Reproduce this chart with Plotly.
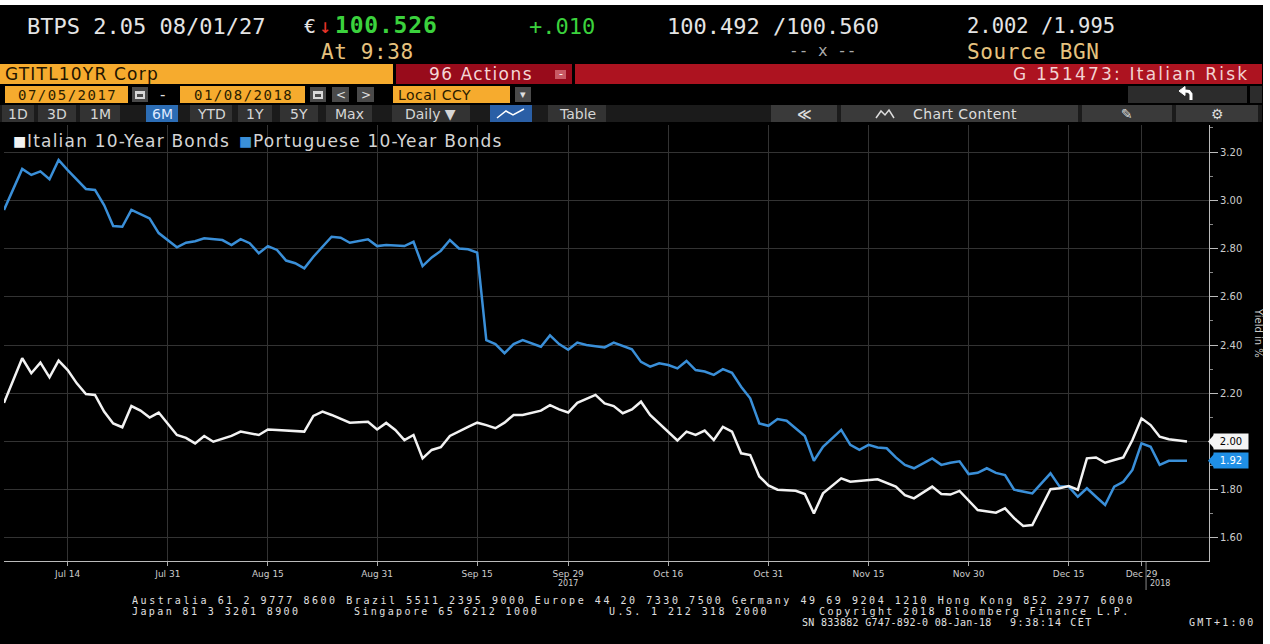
import plotly.graph_objects as go

W, H = 1270, 644

# ---------------- data ----------------
it_dates = ["2017-07-05","2017-07-07","2017-07-10","2017-07-11","2017-07-12","2017-07-13","2017-07-14","2017-07-17","2017-07-18","2017-07-19",
            "2017-07-20","2017-07-21","2017-07-24","2017-07-25","2017-07-26","2017-07-27","2017-07-28","2017-07-31","2017-08-01","2017-08-02",
            "2017-08-03","2017-08-04","2017-08-07","2017-08-09","2017-08-10","2017-08-14","2017-08-15","2017-08-16","2017-08-21","2017-08-22",
            "2017-08-23","2017-08-24","2017-08-28","2017-08-30","2017-08-31","2017-09-01","2017-09-04","2017-09-05","2017-09-06","2017-09-07",
            "2017-09-08","2017-09-11","2017-09-12","2017-09-14","2017-09-15","2017-09-18","2017-09-19","2017-09-20","2017-09-21","2017-09-22",
            "2017-09-26","2017-09-27","2017-09-28","2017-09-29","2017-10-02","2017-10-04","2017-10-05","2017-10-06","2017-10-09","2017-10-10",
            "2017-10-11","2017-10-12","2017-10-16","2017-10-17","2017-10-18","2017-10-19","2017-10-20","2017-10-23","2017-10-24","2017-10-25",
            "2017-10-26","2017-10-27","2017-10-30","2017-10-31","2017-11-01","2017-11-03","2017-11-06","2017-11-07","2017-11-08","2017-11-10",
            "2017-11-13","2017-11-15","2017-11-16","2017-11-20","2017-11-21","2017-11-22","2017-11-24","2017-11-27","2017-11-28","2017-11-29",
            "2017-12-01","2017-12-05","2017-12-06","2017-12-07","2017-12-08","2017-12-11","2017-12-12","2017-12-13","2017-12-14","2017-12-15",
            "2017-12-18","2017-12-19","2017-12-20","2017-12-21","2017-12-22","2017-12-27","2017-12-28","2017-12-29","2018-01-02","2018-01-03",
            "2018-01-04","2018-01-08"]
it_yield = [2.16,2.345,2.283,2.327,2.266,2.335,2.296,2.241,2.197,2.193,
            2.124,2.075,2.059,2.147,2.128,2.099,2.12,2.075,2.027,2.015,
            1.992,2.023,1.999,2.023,2.041,2.027,2.05,2.048,2.041,2.106,
            2.124,2.11,2.078,2.082,2.05,2.077,2.048,2.006,2.027,1.93,
            1.965,1.976,2.023,2.061,2.078,2.068,2.055,2.078,2.11,2.11,
            2.128,2.151,2.133,2.12,2.16,2.193,2.158,2.147,2.117,2.133,
            2.165,2.11,2.041,2.004,2.041,2.027,2.045,2.006,2.061,2.041,
            1.951,1.944,1.855,1.818,1.80,1.796,1.782,1.702,1.785,1.847,
            1.833,1.84,1.843,1.813,1.778,1.764,1.813,1.782,1.78,1.795,
            1.716,1.705,1.723,1.682,1.65,1.654,1.73,1.802,1.806,1.815,
            1.80,1.93,1.934,1.912,1.923,1.934,2.006,2.096,2.068,2.02,
            2.009,2.00]

pt_dates = ["2017-07-05","2017-07-07","2017-07-10","2017-07-11","2017-07-12","2017-07-13","2017-07-14","2017-07-17","2017-07-18","2017-07-19",
            "2017-07-20","2017-07-21","2017-07-24","2017-07-25","2017-07-26","2017-07-27","2017-07-28","2017-08-01","2017-08-02","2017-08-03",
            "2017-08-04","2017-08-08","2017-08-09","2017-08-10","2017-08-11","2017-08-14","2017-08-15","2017-08-16","2017-08-17","2017-08-18",
            "2017-08-21","2017-08-22","2017-08-24","2017-08-25","2017-08-28","2017-08-30","2017-08-31","2017-09-01","2017-09-05","2017-09-06",
            "2017-09-07","2017-09-08","2017-09-11","2017-09-12","2017-09-13","2017-09-14","2017-09-15","2017-09-18","2017-09-19","2017-09-20",
            "2017-09-21","2017-09-22","2017-09-26","2017-09-27","2017-09-28","2017-09-29","2017-10-02","2017-10-03","2017-10-05","2017-10-06",
            "2017-10-10","2017-10-11","2017-10-12","2017-10-13","2017-10-16","2017-10-17","2017-10-18","2017-10-19","2017-10-20","2017-10-23",
            "2017-10-24","2017-10-25","2017-10-26","2017-10-27","2017-10-30","2017-10-31","2017-11-01","2017-11-02","2017-11-06","2017-11-07",
            "2017-11-08","2017-11-10","2017-11-13","2017-11-14","2017-11-15","2017-11-16","2017-11-17","2017-11-20","2017-11-21","2017-11-22",
            "2017-11-24","2017-11-27","2017-11-28","2017-11-29","2017-11-30","2017-12-01","2017-12-04","2017-12-05","2017-12-06","2017-12-07",
            "2017-12-11","2017-12-12","2017-12-13","2017-12-14","2017-12-15","2017-12-18","2017-12-19","2017-12-20","2017-12-21","2017-12-22",
            "2017-12-27","2017-12-28","2017-12-29","2018-01-02","2018-01-03","2018-01-04","2018-01-08"]
pt_yield = [2.96,3.13,3.105,3.12,3.087,3.167,3.125,3.084,3.047,3.043,
            2.98,2.893,2.89,2.96,2.943,2.925,2.864,2.805,2.824,2.83,
            2.842,2.835,2.814,2.839,2.822,2.78,2.81,2.794,2.75,2.739,
            2.718,2.766,2.849,2.845,2.824,2.838,2.81,2.815,2.81,2.828,
            2.727,2.763,2.79,2.835,2.80,2.797,2.783,2.42,2.404,2.366,
            2.404,2.42,2.393,2.44,2.404,2.38,2.41,2.40,2.39,2.41,
            2.382,2.33,2.31,2.324,2.317,2.303,2.334,2.296,2.29,2.276,
            2.30,2.285,2.227,2.179,2.075,2.065,2.093,2.086,2.023,1.92,
            1.978,2.048,1.986,1.965,1.986,1.975,1.972,1.934,1.903,1.889,
            1.93,1.903,1.912,1.918,1.865,1.87,1.889,1.87,1.861,1.80,
            1.785,1.827,1.868,1.813,1.813,1.771,1.806,1.771,1.737,1.813,
            1.833,1.882,1.992,1.978,1.903,1.92,1.92]

tick_dates = ["2017-07-14","2017-07-31","2017-08-15","2017-08-31","2017-09-15","2017-09-29",
              "2017-10-16","2017-10-31","2017-11-15","2017-11-30","2017-12-15","2017-12-29"]
tick_labels = ["Jul 14","Jul 31","Aug 15","Aug 31","Sep 15","Sep 29",
               "Oct 16","Oct 31","Nov 15","Nov 30","Dec 15","Dec 29"]
y_ticks = [1.6, 1.8, 2.0, 2.2, 2.4, 2.6, 2.8, 3.0, 3.2]
holidays = ["2017-12-25", "2017-12-26", "2018-01-01"]
series_names = ["Italian 10-Year Bonds", "Portuguese 10-Year Bonds"]

# ---------------- styles ----------------
WHITE = "#f2f2f2"
BLUE = "#3a8fd8"
TAGBLUE = "#1f8fe6"
ORANGE = "#f6ab2e"
SANS = "DejaVu Sans"
MONO = "DejaVu Sans Mono"

def fx(x):
    return x / W

def fy(y):
    return 1 - y / H

shapes = []
ann = []

def R(x0, y0, x1, y1, fill):
    shapes.append(dict(type="rect", xref="paper", yref="paper",
                       x0=fx(x0), x1=fx(x1), y0=fy(y1), y1=fy(y0),
                       fillcolor=fill, line=dict(width=0), layer="above"))

def P(points, color, width=1.5, fill=None):
    d = "M " + " L ".join("%f %f" % (fx(a), fy(b)) for a, b in points)
    if fill:
        d += " Z"
    shapes.append(dict(type="path", xref="paper", yref="paper", layer="above", path=d,
                       line=dict(color=color, width=width), fillcolor=fill))

def T(x, y, text, size, color, family=SANS, anchor="left", ls=0):
    if ls:
        text = '<span style="letter-spacing:%.2fpx">%s</span>' % (ls, text)
    ann.append(dict(x=fx(x), y=fy(y), xref="paper", yref="paper", text=text,
                    showarrow=False, xanchor=anchor, yanchor="middle", borderpad=0,
                    font=dict(size=size, color=color, family=family)))

# page edges
R(0, 0, W, 5, "white")
R(1263, 0, W, H, "white")

# ---- row 1 / 2 : quote line
T(26, 26, "BTPS 2.05 08/01/27", 22, "#e4e4e4", MONO)
T(303, 26, "€", 20, "#e4e4e4", MONO)
T(318, 26, "↓", 20, "#e8342a", MONO)
T(334, 25, "<b>100.526</b>", 23, "#3bd23d", MONO, "left", 0.8)
T(528, 26, "+.010", 22, "#3bd23d", MONO)
T(666, 26, "100.492 /100.560", 22, "#e4e4e4", MONO)
T(966, 26, "2.002 /1.995", 20.5, "#e4e4e4", MONO)
T(320, 52, "At 9:38", 21, "#e6c27e", MONO, "left", 0.6)
T(788, 51, "-- x --", 16, "#aaaaaa", MONO)
T(966, 52, "Source BGN", 21, "#e6c27e", MONO, "left", 0.6)

# ---- row 3
R(0, 64, 393, 84, ORANGE)
R(396, 64, 572, 84, "#980b1b")
R(575, 64, 1262, 84, "#ad1320")
T(4, 74, "GTITL10YR Corp", 17, "#1e1400", SANS, "left", 1.2)
T(428, 74, "96 Actions", 17, "#f4d6d6", SANS, "left", 1.5)
R(555, 70, 566, 79, "#c85a64")
T(560.5, 74, "-", 11, "#ffffff", SANS, "center")
T(1250, 74, "G 151473: Italian Risk", 17, "#f2d2d2", SANS, "right", 2.2)

# ---- row 4
R(5, 86, 128, 103, ORANGE)
T(67, 95, "07/05/2017", 14, "#2a1c00", MONO, "center", 1.5)
R(132, 87, 148, 102, "#4a4a4a"); R(135, 91, 145, 99, "#d8d8d8"); R(137, 94, 143, 97, "#4a4a4a")
T(162, 95, "-", 15, "#dddddd", SANS, "center")
R(180, 86, 305, 103, ORANGE)
T(243, 95, "01/08/2018", 14, "#2a1c00", MONO, "center", 1.5)
R(310, 87, 326, 102, "#4a4a4a"); R(313, 91, 323, 99, "#d8d8d8"); R(315, 94, 321, 97, "#4a4a4a")
R(332, 87, 349, 102, "#4a4a4a"); T(340.5, 95, "<", 12, "#e0e0e0", SANS, "center")
R(357, 87, 374, 102, "#4a4a4a"); T(365.5, 95, ">", 12, "#e0e0e0", SANS, "center")
R(393, 86, 510, 103, ORANGE)
T(397, 95, "Local CCY", 14, "#2a1c00", SANS, "left", 0.5)
R(515, 87, 531, 102, "#4a4a4a"); T(523, 95, "▾", 11, "#e0e0e0", SANS, "center")
R(1128, 86, 1247, 103, "#2c2c2c")
R(1250, 86, 1262, 103, "#2c2c2c")
P([(1191, 100), (1191, 94), (1189, 91.5), (1185, 91)], "#ffffff", 3)
P([(1179, 91), (1185, 86.5), (1185, 95.5)], "#ffffff", 1, "#ffffff")

# ---- row 5 toolbar
R(0, 105, 1262, 122, "#1b1b1b")
buttons = [("1D", 2, 34), ("3D", 38, 76), ("1M", 80, 120), ("6M", 146, 178),
           ("YTD", 190, 232), ("1Y", 238, 272), ("5Y", 280, 318), ("Max", 326, 372),
           ("Daily ▼", 392, 470), ("", 490, 532), ("Table", 548, 606)]
for lab, a, b in buttons:
    col = "#2c6db5" if lab == "6M" else ("#2a5fa6" if lab == "" else "#333333")
    R(a, 105, b, 122, col)
    if lab:
        T((a + b) / 2, 113.5, lab, 14, "#dfe9ff" if lab == "6M" else "#d6d6d6", SANS, "center")
P([(497, 118), (506, 111), (513, 115), (524, 109)], "#ffffff", 1.5)
R(771, 105, 837, 122, "#3a3a3a"); T(804, 113.5, "<b>≪</b>", 14, "#dddddd", SANS, "center")
R(841, 105, 1078, 122, "#3a3a3a")
P([(876, 118), (881, 111), (885, 115), (889, 110), (894, 118)], "#dddddd", 1.5)
T(912, 113.5, "Chart Content", 14, "#dddddd", SANS, "left", 0.4)
R(1082, 105, 1172, 122, "#3a3a3a"); T(1127, 113.5, "✎", 14, "#dddddd", SANS, "center")
R(1176, 105, 1258, 122, "#3a3a3a"); T(1217, 113.5, "⚙", 14, "#dddddd", SANS, "center")

# ---- legend
T(12, 141, "■", 14, WHITE)
T(26, 141, series_names[0], 17, "#d4d4d4", SANS, "left", 1.2)
T(238, 141, "■", 14, BLUE)
T(252, 141, series_names[1], 17, "#d4d4d4", SANS, "left", 1.2)

# ---- axis extras
ann.append(dict(x=fx(1258), y=fy(333), xref="paper", yref="paper", text="Yield in %",
                textangle=90, showarrow=False, xanchor="center", yanchor="middle",
                font=dict(size=10, color="#cccccc", family=SANS)))
for val, bg, fg in [(it_yield[-1], "#f4f4f4", "#000000"), (pt_yield[-1], TAGBLUE, "#ffffff")]:
    ann.append(dict(x=fx(1213), y=val, xref="paper", yref="y", text="%.2f" % val,
                    showarrow=False, xanchor="left", yanchor="middle", bgcolor=bg, borderpad=1,
                    width=32, height=13, align="center",
                    font=dict(size=10, color=fg, family=SANS)))
    shapes.append(dict(type="path", xref="paper", yref="y", layer="above",
                       path="M %f %f L %f %f L %f %f Z" % (fx(1208), val, fx(1214), val + 0.028,
                                                          fx(1214), val - 0.028),
                       line=dict(width=0), fillcolor=bg))
ann.append(dict(x="2017-09-29", y=fy(583), xref="x", yref="paper", text="2017", showarrow=False,
                xanchor="center", yanchor="middle", borderpad=0, font=dict(size=8, color="#cccccc", family=SANS)))
ann.append(dict(x="2018-01-03", y=fy(583), xref="x", yref="paper", text="2018", showarrow=False,
                xanchor="center", yanchor="middle", borderpad=0, font=dict(size=8, color="#cccccc", family=SANS)))
shapes.append(dict(type="line", xref="x", yref="paper", x0="2017-12-29 12:00", x1="2017-12-29 12:00",
                   y0=fy(590), y1=fy(562), line=dict(color="#888888", width=1)))

# hide the tick label that sits under the last-value tag
y_ticktext = ["" if abs(v - it_yield[-1]) < 0.05 else "%.2f" % v for v in y_ticks]

# ---- footer
F1, F2, F3 = 600, 611, 622
T(131, F1, "Australia 61 2 9777 8600 Brazil 5511 2395 9000 Europe 44 20 7330 7500 "
           "Germany 49 69 9204 1210 Hong Kong 852 2977 6000", 10, "#e0e0e0", MONO, "left", 2.55)
for x, s in [(131, "Japan 81 3 3201 8900"), (353, "Singapore 65 6212 1000"),
             (608, "U.S. 1 212 318 2000"), (818, "Copyright 2018 Bloomberg Finance L.P.")]:
    T(x, F2, s, 10, "#e0e0e0", MONO, "left", 2.4)
for x, s, l in [(801, "SN 833882 G747-892-0 08-Jan-18", 0.3), (1009, "9:38:14 CET", 1.5), (1188, "GMT+1:00", 2.3)]:
    T(x, F3, s, 10, "#e0e0e0", MONO, "left", l)

# ---------------- figure ----------------
fig = go.Figure()
fig.add_trace(go.Scatter(x=pt_dates, y=pt_yield, mode="lines", name=series_names[1],
                         line=dict(color=BLUE, width=2.5), showlegend=False))
fig.add_trace(go.Scatter(x=it_dates, y=it_yield, mode="lines", name=series_names[0],
                         line=dict(color=WHITE, width=2.5), showlegend=False))

fig.update_layout(
    width=W, height=H, margin=dict(l=0, r=0, t=0, b=0),
    paper_bgcolor="#000000", plot_bgcolor="#000000",
    showlegend=False, shapes=shapes, annotations=ann,
    xaxis=dict(type="date", domain=[fx(4), fx(1209)],
               range=["2017-07-05", "2018-01-10 10:00"],
               rangebreaks=[dict(bounds=["sat", "mon"]), dict(values=holidays)],
               tickmode="array", tickvals=tick_dates, ticktext=tick_labels,
               ticks="outside", ticklen=4, tickcolor="#aaaaaa",
               showline=True, linecolor="#bbbbbb", linewidth=1,
               showgrid=True, gridcolor="#333333", gridwidth=1, zeroline=False,
               tickfont=dict(size=9, color="#cccccc", family=SANS), fixedrange=True),
    yaxis=dict(domain=[fy(561), fy(125)], range=[1.5046, 3.312], side="right",
               tickmode="array", tickvals=y_ticks, ticktext=y_ticktext,
               ticks="outside", ticklen=8, tickcolor="#bbbbbb",
               minor=dict(dtick=0.1, tick0=1.5, ticks="outside", ticklen=3, tickcolor="#888888", showgrid=False),
               showline=True, linecolor="#bbbbbb", linewidth=1,
               showgrid=True, gridcolor="#333333", gridwidth=1, zeroline=False,
               tickfont=dict(size=10, color="#cccccc", family=SANS), fixedrange=True),
)

fig.write_html("out.html", config={"displayModeBar": False},
               post_script="document.body.style.margin='0px';")
